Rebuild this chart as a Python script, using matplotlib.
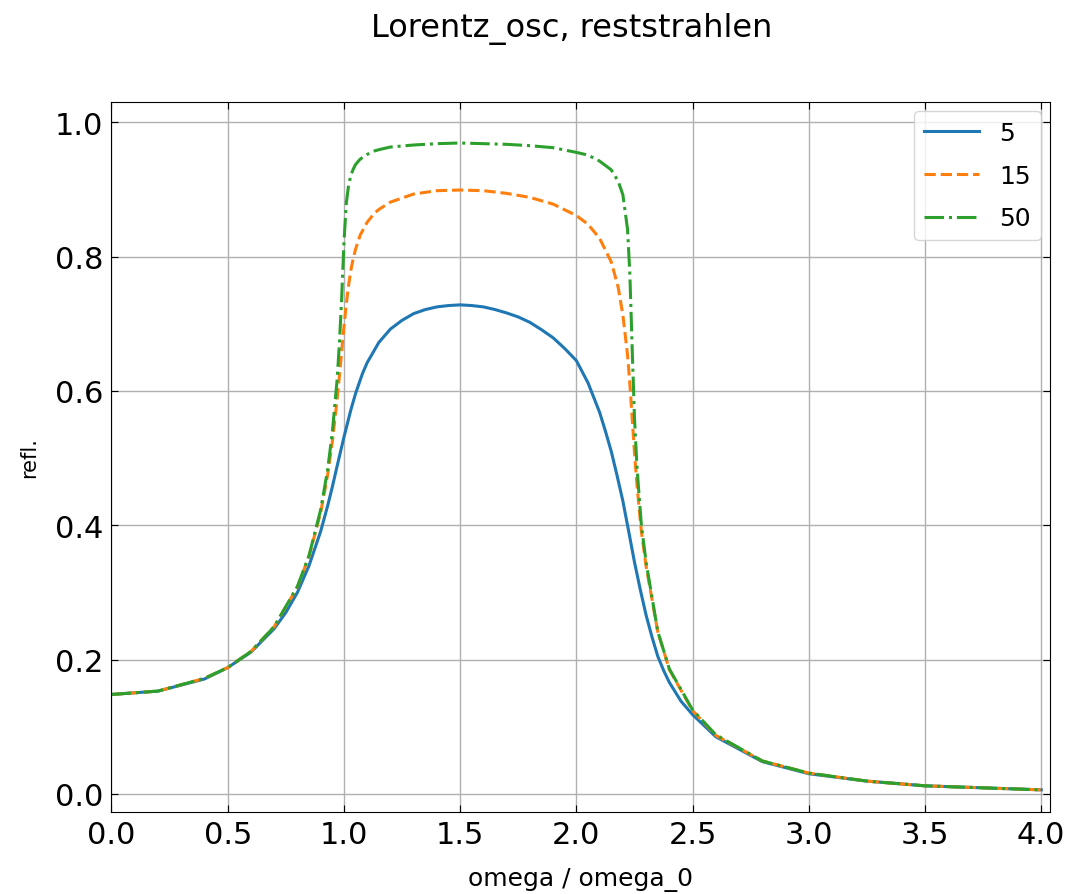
import numpy as np
import matplotlib.pyplot as plt

# reflectivity, Q = 5
omega_5 = [0, 0.2, 0.4, 0.5, 0.6, 0.7, 0.75, 0.8, 0.85, 0.9, 0.93, 0.95, 0.97, 1.0, 1.03,
           1.05, 1.08, 1.1, 1.15, 1.2, 1.25, 1.3, 1.35, 1.4, 1.45, 1.5, 1.55, 1.6, 1.65,
           1.7, 1.75, 1.8, 1.85, 1.9, 1.95, 2.0, 2.05, 2.1, 2.125, 2.15, 2.175, 2.2, 2.225,
           2.25, 2.275, 2.3, 2.325, 2.35, 2.375, 2.4, 2.45, 2.5, 2.6, 2.8, 3.0, 3.25, 3.5,
           3.75, 4.0]
refl_5 = [0.148, 0.153, 0.171, 0.188, 0.211, 0.246, 0.270, 0.300, 0.340, 0.391, 0.429, 0.457,
          0.487, 0.531, 0.572, 0.596, 0.626, 0.642, 0.672, 0.692, 0.705, 0.715, 0.721, 0.725,
          0.727, 0.728, 0.727, 0.725, 0.721, 0.716, 0.710, 0.702, 0.691, 0.679, 0.663, 0.645,
          0.612, 0.568, 0.540, 0.510, 0.474, 0.436, 0.391, 0.345, 0.304, 0.266, 0.234, 0.205,
          0.184, 0.166, 0.138, 0.118, 0.085, 0.048, 0.030, 0.019, 0.012, 0.009, 0.006]

# Q = 15 and Q = 50 share a finer omega grid (sharp band edges)
omega_q = [0, 0.2, 0.4, 0.5, 0.6, 0.7, 0.8, 0.85, 0.9, 0.93, 0.95, 0.97, 0.98, 0.99, 1.0,
           1.01, 1.02, 1.03, 1.04, 1.05, 1.07, 1.1, 1.13, 1.15, 1.2, 1.3, 1.4, 1.5, 1.6,
           1.7, 1.8, 1.9, 2.0, 2.05, 2.1, 2.15, 2.18, 2.2, 2.22, 2.23, 2.24, 2.25, 2.26,
           2.27, 2.28, 2.3, 2.35, 2.4, 2.5, 2.6, 2.8, 3.0, 3.25, 3.5, 3.75, 4.0]
refl_15 = [0.148, 0.153, 0.172, 0.188, 0.212, 0.249, 0.308, 0.354, 0.419, 0.475, 0.524, 0.585,
           0.620, 0.658, 0.695, 0.729, 0.757, 0.780, 0.797, 0.811, 0.832, 0.851, 0.864, 0.870,
           0.881, 0.893, 0.898, 0.899, 0.898, 0.894, 0.888, 0.878, 0.861, 0.848, 0.827, 0.792,
           0.754, 0.713, 0.654, 0.611, 0.560, 0.508, 0.463, 0.425, 0.390, 0.339, 0.242, 0.185,
           0.124, 0.087, 0.049, 0.031, 0.019, 0.012, 0.009, 0.006]
refl_50 = [0.148, 0.153, 0.172, 0.188, 0.212, 0.249, 0.309, 0.355, 0.423, 0.483, 0.538, 0.614,
           0.667, 0.736, 0.820, 0.879, 0.906, 0.921, 0.930, 0.937, 0.945, 0.952, 0.957, 0.959,
           0.963, 0.966, 0.968, 0.969, 0.968, 0.967, 0.965, 0.962, 0.955, 0.951, 0.942, 0.929,
           0.912, 0.892, 0.841, 0.775, 0.664, 0.560, 0.491, 0.443, 0.399, 0.345, 0.242, 0.186,
           0.125, 0.088, 0.049, 0.031, 0.019, 0.012, 0.009, 0.006]

fig = plt.figure(figsize=(10.68, 8.95), dpi=100)
ax = fig.add_axes([0.1044, 0.0916, 0.8786, 0.7933])

ax.plot(omega_5, refl_5, '-', color='tab:blue', lw=2.2, label='5')
ax.plot(omega_q, refl_15, '--', color='tab:orange', lw=2.2, label='15')
ax.plot(omega_q, refl_50, '-.', color='tab:green', lw=2.2, label='50')

ax.set_xlim(0, 4.037)
ax.set_ylim(-0.027, 1.03)
ax.set_xticks(np.arange(0, 4.01, 0.5))
ax.set_yticks(np.arange(0, 1.01, 0.2))
ax.tick_params(direction='in', top=True, right=True, labelsize=22, length=5, pad=6)
ax.grid(True, color='#b0b0b0', lw=1.0)

ax.set_xlabel('omega / omega_0', fontsize=18, labelpad=12.5)
ax.set_ylabel('refl.', fontsize=15, labelpad=11.5)
ax.legend(loc='upper right', fontsize=18, labelspacing=0.75, handlelength=2.2,
          borderaxespad=0.35)

fig.text(0.5356, 0.968, 'Lorentz_osc, reststrahlen', ha='center', va='center', fontsize=23)

fig.savefig('out.png', dpi=100)
